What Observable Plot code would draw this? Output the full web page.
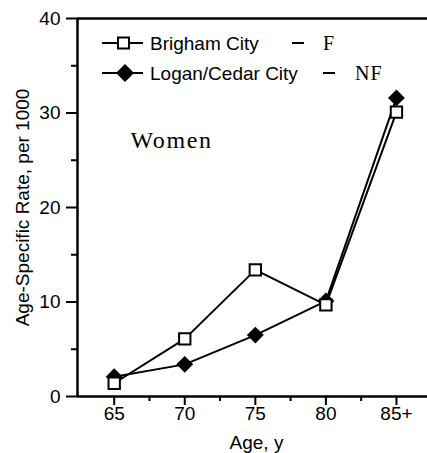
<!DOCTYPE html>
<html>
<head>
<meta charset="utf-8">
<script src="https://cdn.jsdelivr.net/npm/d3@7"></script>
<script src="https://cdn.jsdelivr.net/npm/@observablehq/plot@0.6"></script>
<style>
  body { margin: 0; background: #fff; }
  #chart { width: 427px; height: 453px; }
</style>
</head>
<body>
<div id="chart"></div>
<script>
// Age groups on the x axis and their tick labels
const ages = [65, 70, 75, 80, 85];
const ageLabels = ["65", "70", "75", "80", "85+"];
const minorAges = [67.5, 72.5, 77.5, 82.5];

// Rate ticks (per 1000)
const rateTicks = [0, 10, 20, 30, 40];
const minorRates = [5, 15, 25, 35];

// Age-specific rates, women
const brigham = [1.4, 6.1, 13.4, 9.7, 30.1];
const logan = [2.1, 3.4, 6.5, 10.1, 31.6];

const seriesNames = ["Brigham City", "Logan/Cedar City"];
const seriesCodes = ["F", "NF"];
const groupLabel = "Women";
const xTitle = "Age, y";
const yTitle = "Age-Specific Rate, per 1000";

const xDomain = [62.4, 87.2];
const yDomain = [0, 40];

const toRows = (vals, name) => ages.map((a, i) => ({age: a, rate: vals[i], city: name}));
const brighamRows = toRows(brigham, seriesNames[0]);
const loganRows = toRows(logan, seriesNames[1]);

const sans = "'Liberation Sans', Arial, Helvetica, sans-serif";
const serif = "'Liberation Serif', 'Times New Roman', serif";

const plot = Plot.plot({
  width: 427,
  height: 453,
  marginLeft: 77,
  marginRight: 0,
  marginTop: 18,
  marginBottom: 57,
  x: {type: "linear", domain: xDomain},
  y: {type: "linear", domain: yDomain},
  style: {fontFamily: sans, fontSize: "19px", color: "#000", background: "#fff", overflow: "visible"},
  marks: [
    // axes with major and minor ticks
    Plot.axisY(rateTicks, {tickSize: 11, tickPadding: 6, strokeWidth: 2, label: null, fontSize: 19}),
    Plot.axisY(minorRates, {tickSize: 6, tickFormat: () => "", strokeWidth: 2, label: null}),
    Plot.axisX(ages, {tickSize: 9, tickPadding: 1, strokeWidth: 2, label: null, fontSize: 19,
      tickFormat: d => ageLabels[ages.indexOf(d)]}),
    Plot.axisX(minorAges, {tickSize: 5, tickFormat: () => "", strokeWidth: 2, label: null}),
    // frame lines: bottom, top, left
    Plot.ruleY([yDomain[0]], {strokeWidth: 2.5}),
    Plot.ruleY([yDomain[1]], {strokeWidth: 2.5}),
    Plot.ruleX([xDomain[0]], {strokeWidth: 2.5}),
    // series
    Plot.line(loganRows, {x: "age", y: "rate", stroke: "#000", strokeWidth: 2}),
    Plot.line(brighamRows, {x: "age", y: "rate", stroke: "#000", strokeWidth: 2}),
    Plot.dot(loganRows, {x: "age", y: "rate", symbol: "diamond2", r: 7.6, fill: "#000", stroke: null}),
    Plot.dot(brighamRows, {x: "age", y: "rate", symbol: "square", r: 6.4, fill: "#fff", stroke: "#000", strokeWidth: 2}),
    // titles
    Plot.text([yTitle], {frameAnchor: "left", rotate: -90, dx: -55, textAnchor: "middle", lineAnchor: "middle", fontSize: 19}),
    Plot.text([xTitle], {frameAnchor: "bottom", dx: 4, dy: 46, textAnchor: "middle", lineAnchor: "middle", fontSize: 19}),
    Plot.text([groupLabel], {frameAnchor: "top-left", dx: 53, dy: 122, textAnchor: "start", lineAnchor: "middle",
      fontFamily: serif, fontSize: 24})
  ]
});

// wide letter spacing for the typewriter-style group label
d3.select(plot).selectAll("text").filter(function () { return this.textContent === groupLabel; })
  .attr("letter-spacing", 1.6);

// legend
const svg = d3.select(plot);
const legend = svg.append("g").attr("fill", "#000").attr("text-anchor", "start");
const rowsY = [43, 73];
const dashX = [298, 329];
const codeX = [323, 355];
seriesNames.forEach((name, i) => {
  const y = rowsY[i];
  legend.append("line").attr("x1", 102).attr("x2", 143).attr("y1", y).attr("y2", y)
    .attr("stroke", "#000").attr("stroke-width", 2);
  if (i === 0) {
    legend.append("rect").attr("x", 118).attr("y", y - 5.5).attr("width", 11).attr("height", 11)
      .attr("fill", "#fff").attr("stroke", "#000").attr("stroke-width", 2);
  } else {
    const cx = 125, h = 9;
    legend.append("path").attr("d", `M${cx},${y - h}L${cx + h},${y}L${cx},${y + h}L${cx - h},${y}Z`).attr("fill", "#000");
  }
  legend.append("text").attr("x", 150).attr("y", y).attr("dy", "0.35em")
    .attr("font-family", sans).attr("font-size", 19).text(name);
  legend.append("line").attr("x1", dashX[i] - 6).attr("x2", dashX[i] + 6).attr("y1", y).attr("y2", y)
    .attr("stroke", "#000").attr("stroke-width", 2);
  legend.append("text").attr("x", codeX[i]).attr("y", y).attr("dy", "0.35em")
    .attr("font-family", serif).attr("font-size", 20).attr("letter-spacing", 1).text(seriesCodes[i]);
});

document.getElementById("chart").appendChild(plot);
</script>
</body>
</html>
